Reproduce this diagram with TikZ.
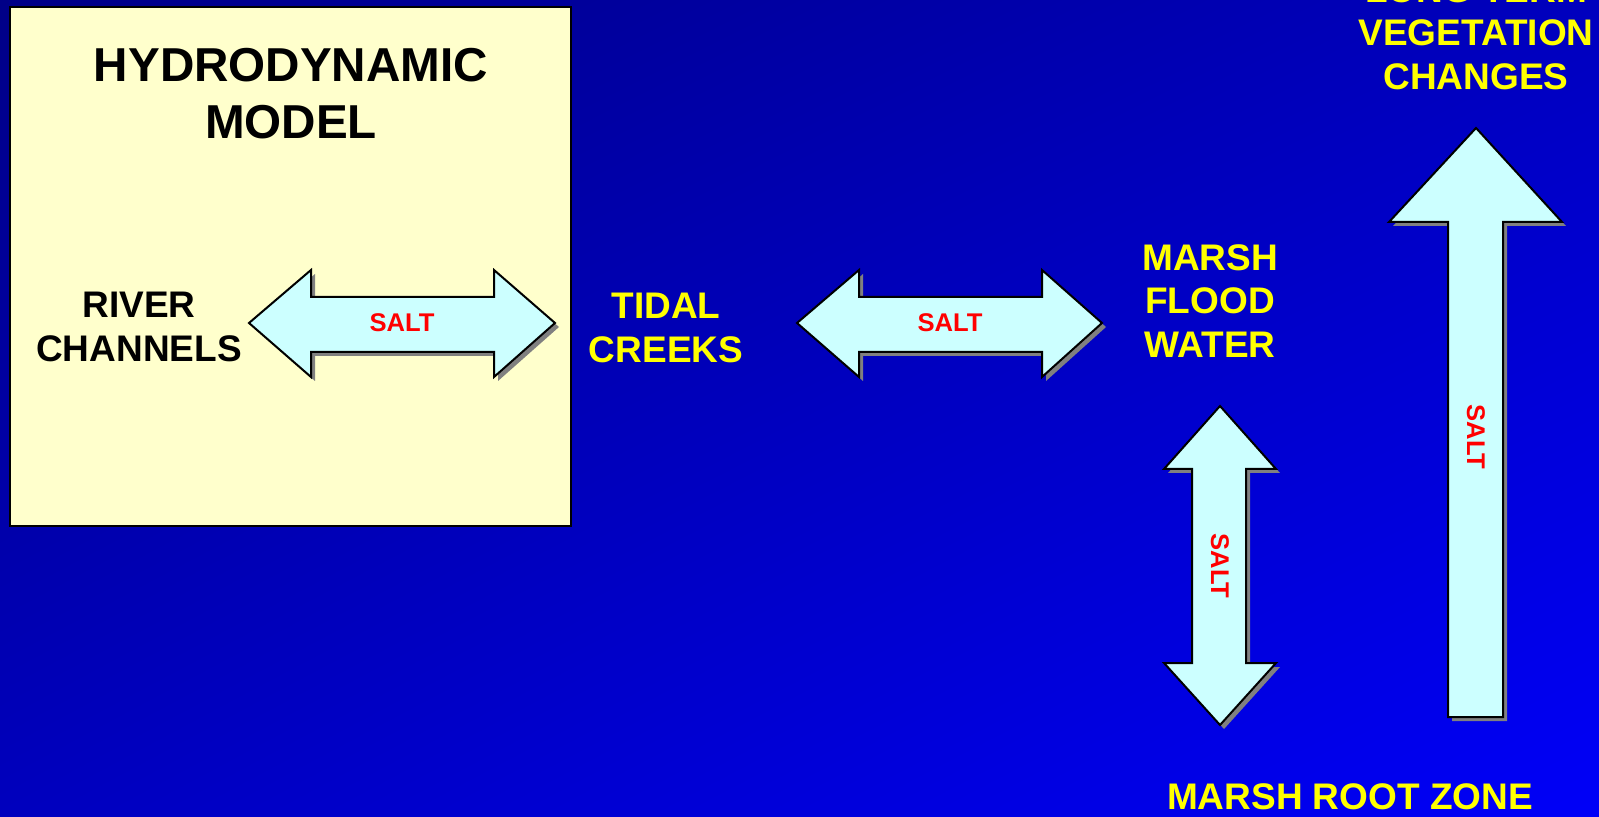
\documentclass[tikz,border=0pt]{standalone}
\usepackage{fontspec}
\setmainfont{Liberation Sans}
\usetikzlibrary{shadings}
\definecolor{bgdark}{RGB}{0,0,135}
\definecolor{bgmid}{RGB}{0,0,190}
\definecolor{bglight}{RGB}{0,0,248}
\definecolor{boxfill}{RGB}{255,255,204}
\definecolor{arrowfill}{RGB}{204,255,255}
\definecolor{shadowgray}{RGB}{128,128,128}
\definecolor{labyellow}{RGB}{255,255,0}
\definecolor{saltred}{RGB}{255,0,0}
\begin{document}
\begin{tikzpicture}[x=0.5pt,y=-0.5pt,
  bigtxt/.style={font=\fontsize{23.8}{28.5}\selectfont\bfseries, align=center, inner sep=0pt},
  midtxt/.style={font=\fontsize{18.5}{21.8}\selectfont\bfseries, align=center, inner sep=0pt},
  yellowtxt/.style={midtxt, text=labyellow},
  blacktxt/.style={midtxt, text=black},
  salttxt/.style={font=\fontsize{12.8}{15}\selectfont\bfseries, text=saltred, inner sep=0pt},
  blockarrow/.style={draw=black, line width=1pt, fill=arrowfill, line join=miter},
  arrowshadow/.style={fill=shadowgray, draw=none},
  modelbox/.style={draw=black, line width=1pt, fill=boxfill}]
\useasboundingbox (0,0) rectangle (1599,817);
\shade[upper left=bgdark, upper right=bgmid, lower left=bgmid, lower right=bglight] (0,0) rectangle (1599,817);

% hydrodynamic model box
\draw[modelbox] (10,7) rectangle (571,526);
\node[bigtxt] (hydro) at (291,94) {HYDRODYNAMIC\\MODEL};
\node[blacktxt] (river) at (139,327) {RIVER\\CHANNELS};

% arrow 1 (horizontal)
\begin{scope}[shift={(4,4)}]
\fill[arrowshadow] (249,323) -- (311,270) -- (311,297) -- (494,297) -- (494,270) -- (555,323) -- (494,377) -- (494,352) -- (311,352) -- (311,377) -- cycle;
\end{scope}
\draw[blockarrow] (249,323) -- (311,270) -- (311,297) -- (494,297) -- (494,270) -- (555,323) -- (494,377) -- (494,352) -- (311,352) -- (311,377) -- cycle;
\node[salttxt] (salt1) at (402,323) {SALT};

\node[yellowtxt] (tidal) at (666,328) {TIDAL\\CREEKS};

% arrow 2 (horizontal)
\begin{scope}[shift={(4,4)}]
\fill[arrowshadow] (797,323) -- (859,270) -- (859,297) -- (1042,297) -- (1042,270) -- (1102,323) -- (1042,377) -- (1042,352) -- (859,352) -- (859,377) -- cycle;
\end{scope}
\draw[blockarrow] (797,323) -- (859,270) -- (859,297) -- (1042,297) -- (1042,270) -- (1102,323) -- (1042,377) -- (1042,352) -- (859,352) -- (859,377) -- cycle;
\node[salttxt] (salt2) at (950,323) {SALT};

\node[yellowtxt] (flood) at (1210,301) {MARSH\\FLOOD\\WATER};

% arrow 3 (vertical double)
\begin{scope}[shift={(4,4)}]
\fill[arrowshadow] (1220,406) -- (1276,469) -- (1246,469) -- (1246,663) -- (1276,663) -- (1220,725) -- (1164,663) -- (1192,663) -- (1192,469) -- (1164,469) -- cycle;
\end{scope}
\draw[blockarrow] (1220,406) -- (1276,469) -- (1246,469) -- (1246,663) -- (1276,663) -- (1220,725) -- (1164,663) -- (1192,663) -- (1192,469) -- (1164,469) -- cycle;
\node[salttxt, rotate=-90] (salt3) at (1220,566) {SALT};

\node[yellowtxt] (root) at (1350,797) {MARSH ROOT ZONE};

% arrow 4 (vertical up)
\begin{scope}[shift={(4,4)}]
\fill[arrowshadow] (1476,128) -- (1562,222) -- (1503,222) -- (1503,717) -- (1448,717) -- (1448,222) -- (1389,222) -- cycle;
\end{scope}
\draw[blockarrow] (1476,128) -- (1562,222) -- (1503,222) -- (1503,717) -- (1448,717) -- (1448,222) -- (1389,222) -- cycle;
\node[salttxt, rotate=-90] (salt4) at (1476,437) {SALT};

\node[yellowtxt] (veg) at (1476,33) {LONG TERM\\VEGETATION\\CHANGES};
\end{tikzpicture}
\end{document}
